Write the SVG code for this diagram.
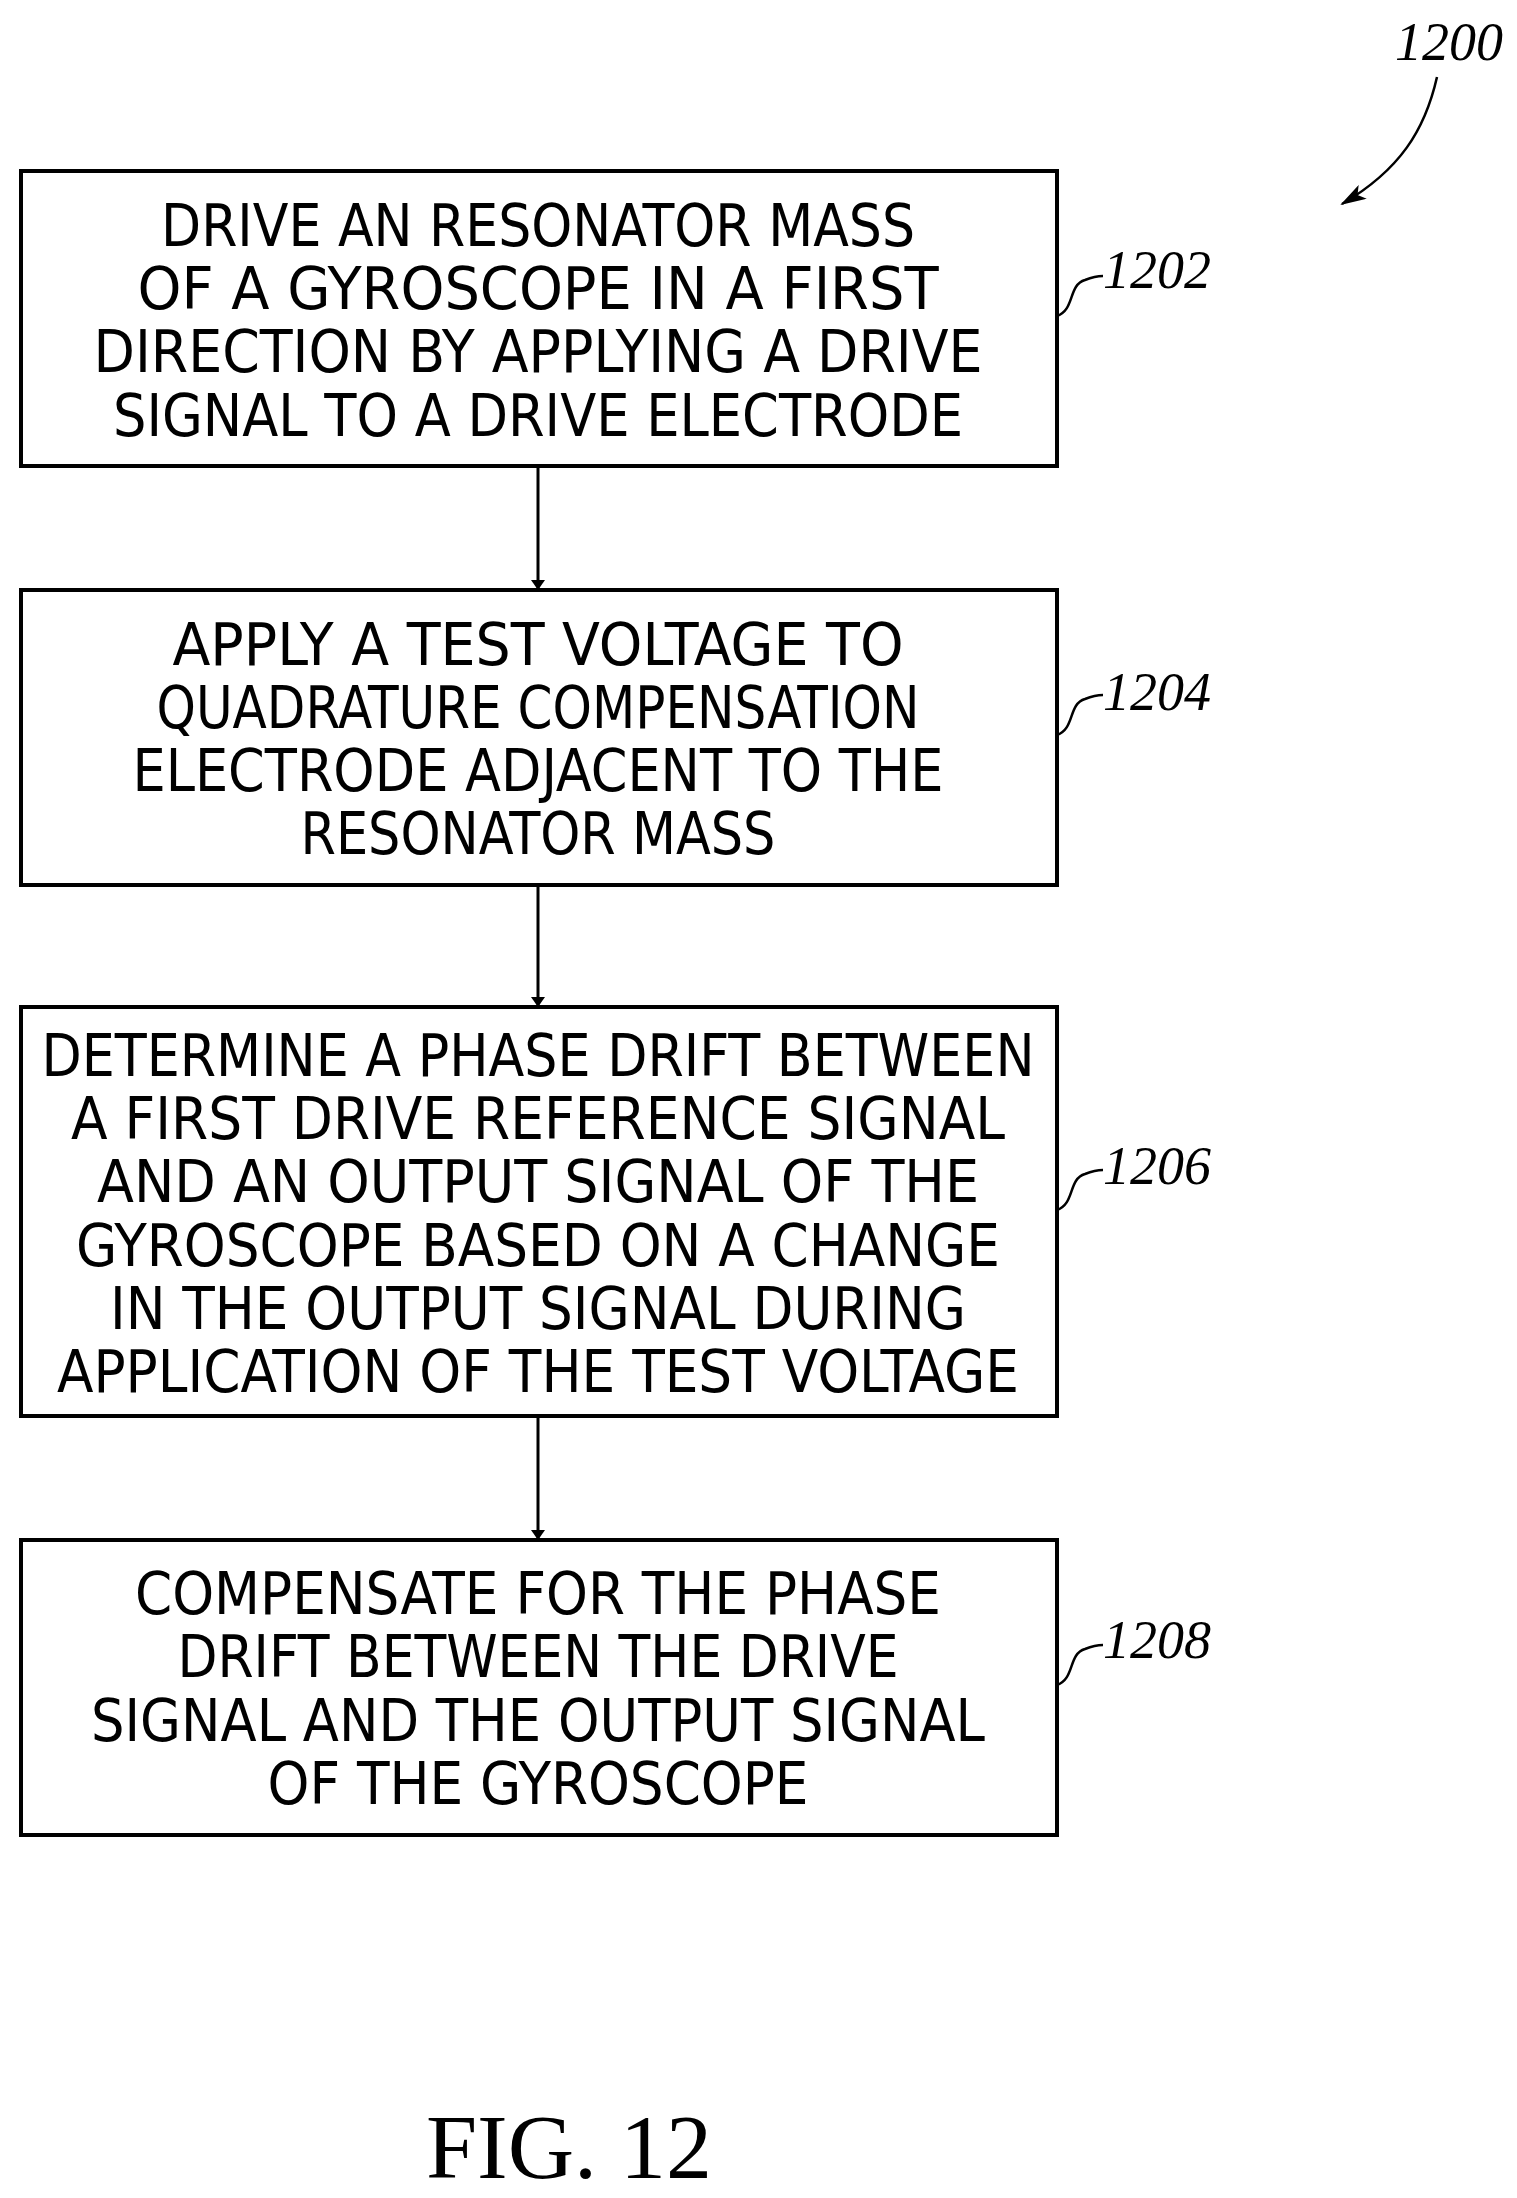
<svg xmlns="http://www.w3.org/2000/svg" width="1517" height="2198" viewBox="0 0 1517 2198">
<style>
.box{fill:#fff;stroke:#000;stroke-width:4}
.t{font-family:"DejaVu Sans Condensed","Liberation Sans",sans-serif;font-size:58px;text-anchor:middle;fill:#000}
.ref{font-family:"Liberation Serif",serif;font-style:italic;font-size:54px;fill:#000}
.ld{fill:none;stroke:#000;stroke-width:2.5}
.c{stroke:#000;stroke-width:3;fill:none}
</style>
<defs><marker id="ah" markerWidth="10" markerHeight="14" refX="9" refY="7" orient="auto" markerUnits="userSpaceOnUse" viewBox="0 0 10 14"><path d="M0,0 L10,7 L0,14 Z" fill="#000"/></marker>
<marker id="ah2" markerWidth="26" markerHeight="16" refX="24" refY="8" orient="auto" markerUnits="userSpaceOnUse"><path d="M0,0 L26,8 L0,16 L6,8 Z" fill="#000"/></marker></defs>
<g id="connectors">
<line class="c" x1="538" y1="466" x2="538" y2="589" marker-end="url(#ah)"/>
<line class="c" x1="538" y1="885" x2="538" y2="1006" marker-end="url(#ah)"/>
<line class="c" x1="538" y1="1416" x2="538" y2="1539" marker-end="url(#ah)"/>
</g>
<g id="n1202">
<rect class="box" x="21" y="171" width="1036" height="295"/>
<text class="t" x="538" y="246" textLength="754" lengthAdjust="spacingAndGlyphs">DRIVE  AN  RESONATOR  MASS</text>
<text class="t" x="538" y="309" textLength="801" lengthAdjust="spacingAndGlyphs">OF  A  GYROSCOPE  IN  A  FIRST</text>
<text class="t" x="538" y="372" textLength="889" lengthAdjust="spacingAndGlyphs">DIRECTION  BY  APPLYING  A  DRIVE</text>
<text class="t" x="538" y="436" textLength="850" lengthAdjust="spacingAndGlyphs">SIGNAL  TO  A  DRIVE  ELECTRODE</text>
<path class="ld" d="M1057,316 C1075,310 1068,285 1085,280 Q1095,276 1103,276"/>
<text class="ref" x="1103" y="288">1202</text>
</g>
<g id="n1204">
<rect class="box" x="21" y="590" width="1036" height="295"/>
<text class="t" x="538" y="665" textLength="731" lengthAdjust="spacingAndGlyphs">APPLY  A  TEST  VOLTAGE  TO</text>
<text class="t" x="538" y="728" textLength="763" lengthAdjust="spacingAndGlyphs">QUADRATURE  COMPENSATION</text>
<text class="t" x="538" y="791" textLength="811" lengthAdjust="spacingAndGlyphs">ELECTRODE  ADJACENT  TO  THE</text>
<text class="t" x="538" y="854" textLength="475" lengthAdjust="spacingAndGlyphs">RESONATOR  MASS</text>
<path class="ld" d="M1057,735 C1075,729 1068,704 1085,699 Q1095,695 1103,695"/>
<text class="ref" x="1103" y="710">1204</text>
</g>
<g id="n1206">
<rect class="box" x="21" y="1007" width="1036" height="409"/>
<text class="t" x="538" y="1076" textLength="993" lengthAdjust="spacingAndGlyphs">DETERMINE  A  PHASE  DRIFT  BETWEEN</text>
<text class="t" x="538" y="1139" textLength="934" lengthAdjust="spacingAndGlyphs">A  FIRST  DRIVE  REFERENCE  SIGNAL</text>
<text class="t" x="538" y="1202" textLength="882" lengthAdjust="spacingAndGlyphs">AND  AN  OUTPUT  SIGNAL  OF  THE</text>
<text class="t" x="538" y="1266" textLength="924" lengthAdjust="spacingAndGlyphs">GYROSCOPE  BASED  ON  A  CHANGE</text>
<text class="t" x="538" y="1329" textLength="856" lengthAdjust="spacingAndGlyphs">IN  THE  OUTPUT  SIGNAL  DURING</text>
<text class="t" x="538" y="1392" textLength="962" lengthAdjust="spacingAndGlyphs">APPLICATION  OF  THE  TEST  VOLTAGE</text>
<path class="ld" d="M1057,1210 C1075,1204 1068,1179 1085,1174 Q1095,1170 1103,1170"/>
<text class="ref" x="1103" y="1184">1206</text>
</g>
<g id="n1208">
<rect class="box" x="21" y="1540" width="1036" height="295"/>
<text class="t" x="538" y="1614" textLength="806" lengthAdjust="spacingAndGlyphs">COMPENSATE  FOR  THE  PHASE</text>
<text class="t" x="538" y="1677" textLength="721" lengthAdjust="spacingAndGlyphs">DRIFT  BETWEEN  THE  DRIVE</text>
<text class="t" x="538" y="1741" textLength="894" lengthAdjust="spacingAndGlyphs">SIGNAL  AND  THE  OUTPUT  SIGNAL</text>
<text class="t" x="538" y="1804" textLength="541" lengthAdjust="spacingAndGlyphs">OF  THE  GYROSCOPE</text>
<path class="ld" d="M1057,1685 C1075,1679 1068,1654 1085,1649 Q1095,1645 1103,1645"/>
<text class="ref" x="1103" y="1658">1208</text>
</g>
<g id="n1200">
<text class="ref" x="1395" y="60">1200</text>
<path class="ld" d="M1437,77 C1425,130 1400,170 1342,204" marker-end="url(#ah2)"/>
</g>
<text x="569" y="2178" font-family="Liberation Serif,serif" font-size="92" text-anchor="middle">FIG. 12</text>
</svg>
